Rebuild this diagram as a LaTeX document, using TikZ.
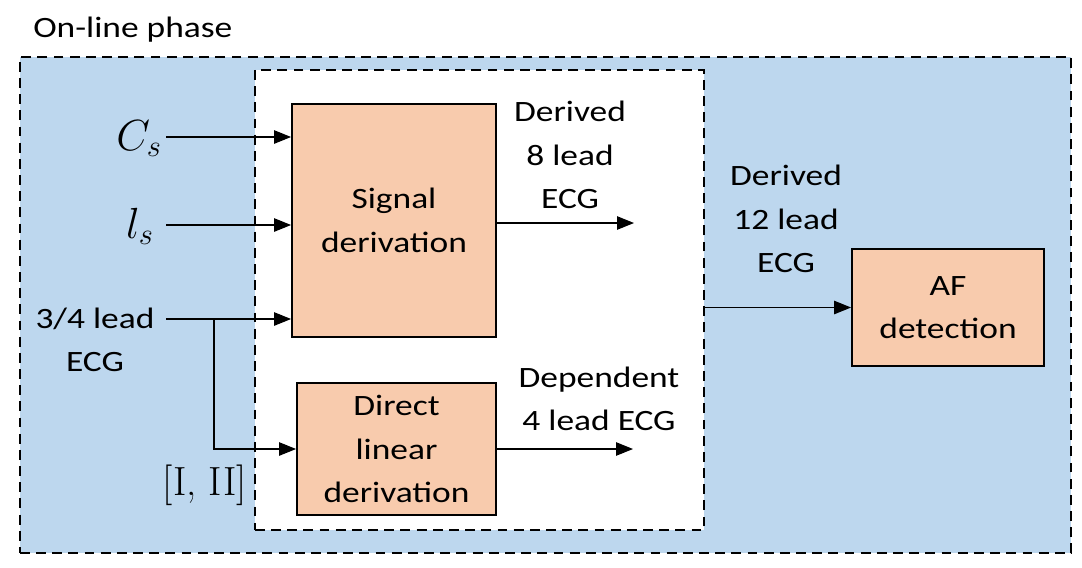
\RequirePackage{fix-cm}
\documentclass[tikz,border=0pt]{standalone}
\usepackage{fontspec}
\setsansfont{Carlito}[FakeStretch=1.2]
\usepackage{xcolor}
\usetikzlibrary{positioning, arrows.meta}

\definecolor{phaseblue}{RGB}{189,215,238}
\definecolor{blockorange}{RGB}{248,203,173}
\newcommand{\txtfont}{\sffamily\fontsize{21}{31}\selectfont}

\begin{document}
\begin{tikzpicture}[x=0.025cm, y=-0.025cm,
  block/.style={draw, line width=1.3pt, fill=blockorange, align=center, font=\txtfont},
  phasebox/.style={draw, dash pattern=on 7pt off 4.5pt, line width=1.4pt, inner sep=0pt},
  arr/.style={-{Triangle[length=12pt, width=9.5pt]}, line width=0.8pt},
  lbl/.style={align=center, font=\txtfont, inner sep=0pt},
  mathlbl/.style={inner sep=0pt, font=\fontsize{31}{36}\selectfont}]

  \useasboundingbox (0,0) rectangle (1082,567);

  % Phase frames
  \node[phasebox, fill=phaseblue, minimum width=26.275cm, minimum height=12.4cm] (online) at (545.5,305) {};
  \node[phasebox, fill=white, minimum width=11.225cm, minimum height=11.5cm] (core) at (479.5,300) {};
  \node[lbl, anchor=base west] (title) at (33,37) {On-line phase};

  % Blocks
  \node[block, minimum width=5.1cm, minimum height=5.825cm] (sig) at (394,220.5) {Signal\\derivation};
  \node[block, minimum width=4.975cm, minimum height=3.3cm] (dir) at (396.5,449) {Direct\\linear\\derivation};
  \node[block, minimum width=4.8cm, minimum height=2.925cm] (af) at (948,307.5) {AF\\detection};

  % Inputs
  \coordinate (csin) at (166,137);
  \coordinate (lsin) at (166,225);
  \coordinate (ecgin) at (166,319);
  \coordinate (split) at (214,319);
  \node[mathlbl, anchor=base east] (cs) at (162,150) {$C_s$};
  \node[mathlbl, anchor=base east] (ls) at (154,238) {$l_s$};
  \node[lbl] (ecg) at (95,340) {3/4 lead\\ECG};
  \node[mathlbl, font=\rmfamily\fontsize{29}{34}\selectfont] (leads) at (205,485) {[I, II]};

  \draw[arr] (csin) -- (csin -| sig.west);
  \draw[arr] (lsin) -- (lsin -| sig.west);
  \draw[arr] (ecgin) -- (ecgin -| sig.west);
  \draw[arr] (split) |- (dir.west);

  % Outputs
  \coordinate (sigend) at (634,223);
  \coordinate (dirend) at (633,449);
  \node[lbl] (d8) at (570,155) {Derived\\8 lead\\ECG};
  \node[lbl] (d4) at (599,399) {Dependent\\4 lead ECG};
  \node[lbl] (d12) at (786,219) {Derived\\12 lead\\ECG};

  \draw[arr] (sig.east |- sigend) -- (sigend);
  \draw[arr] (dir.east |- dirend) -- (dirend);
  \draw[arr] (core.east |- af.west) -- (af.west);

\end{tikzpicture}
\end{document}
